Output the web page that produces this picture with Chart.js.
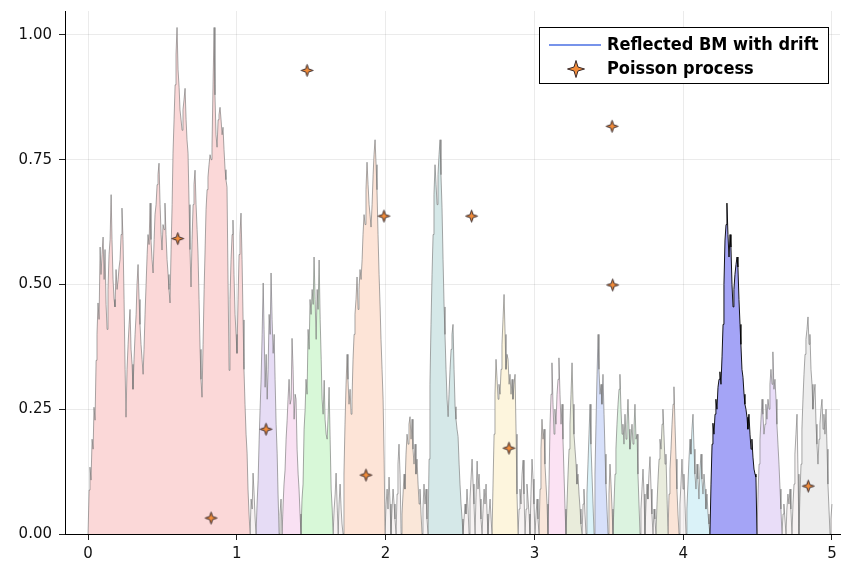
<!DOCTYPE html>
<html><head><meta charset="utf-8">
<style>html,body{margin:0;padding:0;background:#fff}#wrap{width:848px;height:561px}</style>
<script src="https://cdn.jsdelivr.net/npm/chart.js@4/dist/chart.umd.min.js"></script>
</head><body><div id="wrap"><canvas id="c" width="848" height="561"></canvas></div>
<script>
// Reflected Brownian motion path [t, W_t]; each zero ends an excursion
const bmPath = [
[0,0],[0.007,0.088],[0.013,0.134],[0.020,0.108],[0.027,0.19],[0.034,0.17],[0.040,0.254],[0.047,0.228],[0.054,0.348],[0.060,0.40],[0.067,0.463],[0.074,0.43],[0.081,0.575],[0.087,0.52],[0.094,0.56],[0.101,0.595],[0.108,0.51],[0.114,0.57],[0.121,0.46],[0.128,0.41],[0.134,0.49],[0.141,0.56],[0.148,0.59],[0.155,0.68],[0.161,0.59],[0.168,0.51],[0.175,0.47],[0.181,0.455],[0.188,0.53],[0.195,0.49],[0.202,0.51],[0.208,0.533],[0.215,0.55],[0.222,0.60],[0.228,0.653],[0.235,0.59],[0.242,0.47],[0.249,0.33],[0.255,0.234],[0.262,0.33],[0.269,0.38],[0.276,0.42],[0.282,0.45],[0.289,0.37],[0.296,0.34],[0.302,0.29],[0.309,0.35],[0.316,0.40],[0.323,0.44],[0.329,0.50],[0.336,0.54],[0.343,0.47],[0.349,0.42],[0.356,0.38],[0.363,0.35],[0.370,0.32],[0.376,0.37],[0.383,0.44],[0.390,0.50],[0.397,0.56],[0.403,0.60],[0.410,0.58],[0.417,0.663],[0.423,0.59],[0.430,0.55],[0.437,0.523],[0.444,0.59],[0.450,0.64],[0.457,0.66],[0.464,0.70],[0.470,0.72],[0.477,0.743],[0.484,0.66],[0.491,0.60],[0.497,0.569],[0.504,0.62],[0.511,0.61],[0.517,0.663],[0.524,0.60],[0.531,0.55],[0.538,0.52],[0.544,0.49],[0.551,0.463],[0.558,0.57],[0.565,0.66],[0.571,0.763],[0.578,0.83],[0.585,0.90],[0.591,0.96],[0.598,1.015],[0.605,0.93],[0.612,0.895],[0.618,0.85],[0.625,0.83],[0.632,0.809],[0.638,0.85],[0.645,0.87],[0.652,0.893],[0.659,0.83],[0.665,0.79],[0.672,0.763],[0.679,0.66],[0.685,0.57],[0.692,0.495],[0.699,0.59],[0.706,0.66],[0.712,0.70],[0.719,0.729],[0.726,0.66],[0.733,0.61],[0.739,0.563],[0.746,0.47],[0.753,0.37],[0.759,0.31],[0.766,0.274],[0.773,0.38],[0.780,0.49],[0.786,0.563],[0.793,0.65],[0.800,0.69],[0.806,0.715],[0.813,0.74],[0.820,0.76],[0.827,0.75],[0.833,0.775],[0.840,0.90],[0.847,1.015],[0.853,0.88],[0.860,0.80],[0.867,0.775],[0.874,0.83],[0.880,0.84],[0.887,0.855],[0.894,0.83],[0.901,0.80],[0.907,0.815],[0.914,0.77],[0.921,0.73],[0.927,0.71],[0.934,0.695],[0.941,0.50],[0.948,0.328],[0.954,0.47],[0.961,0.55],[0.968,0.60],[0.974,0.629],[0.981,0.52],[0.988,0.44],[0.995,0.40],[1.001,0.362],[1.008,0.47],[1.015,0.56],[1.021,0.60],[1.028,0.643],[1.035,0.55],[1.042,0.429],[1.048,0.33],[1.055,0.26],[1.062,0.20],[1.069,0.162],[1.075,0.09],[1.082,0.04],[1.089,0],
[1.096,0.07],[1.103,0.05],[1.109,0.122],[1.116,0.08],[1.123,0.03],[1.129,0],
[1.136,0.06],[1.143,0.108],[1.150,0.19],[1.156,0.248],[1.163,0.31],[1.170,0.40],[1.177,0.503],[1.183,0.41],[1.190,0.294],[1.197,0.36],[1.204,0.27],[1.210,0.33],[1.217,0.44],[1.224,0.40],[1.230,0.523],[1.237,0.43],[1.244,0.362],[1.251,0.40],[1.257,0.31],[1.264,0.22],[1.271,0.162],[1.277,0.08],[1.284,0],
[1.290,0.04],[1.297,0.07],[1.304,0],
[1.311,0.06],[1.317,0.10],[1.324,0.128],[1.331,0.19],[1.338,0.228],[1.344,0.27],[1.351,0.31],[1.358,0.26],[1.365,0.27],[1.371,0.392],[1.378,0.33],[1.385,0.23],[1.392,0.28],[1.398,0.27],[1.405,0.17],[1.412,0.12],[1.418,0.09],[1.425,0.04],[1.431,0],
[1.438,0.07],[1.445,0.10],[1.452,0.21],[1.459,0.25],[1.465,0.31],[1.472,0.28],[1.479,0.41],[1.486,0.37],[1.492,0.47],[1.499,0.44],[1.506,0.49],[1.513,0.46],[1.519,0.555],[1.526,0.47],[1.533,0.39],[1.540,0.49],[1.546,0.45],[1.553,0.549],[1.560,0.43],[1.567,0.35],[1.573,0.27],[1.580,0.24],[1.587,0.308],[1.593,0.23],[1.600,0.20],[1.607,0.19],[1.614,0.24],[1.620,0.294],[1.627,0.19],[1.634,0.09],[1.641,0.05],[1.647,0],
[1.654,0.05],[1.661,0.08],[1.667,0.122],[1.674,0.06],[1.681,0],
[1.687,0.06],[1.694,0.10],[1.701,0.05],[1.707,0.02],[1.714,0],
[1.720,0.12],[1.727,0.22],[1.734,0.30],[1.741,0.36],[1.747,0.31],[1.754,0.26],[1.761,0.29],[1.768,0.24],[1.774,0.27],[1.781,0.35],[1.788,0.40],[1.794,0.44],[1.801,0.47],[1.808,0.515],[1.815,0.45],[1.821,0.49],[1.828,0.53],[1.835,0.51],[1.842,0.55],[1.848,0.60],[1.855,0.64],[1.862,0.62],[1.868,0.69],[1.875,0.745],[1.882,0.70],[1.889,0.66],[1.895,0.64],[1.902,0.615],[1.909,0.66],[1.916,0.72],[1.922,0.76],[1.929,0.79],[1.936,0.74],[1.942,0.69],[1.949,0.60],[1.956,0.52],[1.963,0.455],[1.969,0.39],[1.976,0.33],[1.983,0.27],[1.990,0.15],[1.996,0],
[2.003,0.06],[2.010,0.09],[2.016,0.05],[2.023,0.114],[2.030,0.06],[2.036,0],
[2.043,0.05],[2.050,0.09],[2.057,0.06],[2.063,0.03],[2.070,0],
[2.077,0.08],[2.083,0.14],[2.090,0.18],[2.097,0.12],[2.104,0],
[2.110,0.04],[2.117,0.08],[2.124,0.12],[2.130,0.09],[2.137,0.16],[2.144,0.20],[2.151,0.18],[2.157,0.22],[2.164,0.235],[2.171,0.19],[2.178,0.23],[2.184,0.17],[2.191,0.14],[2.198,0.18],[2.204,0.12],[2.211,0.15],[2.218,0.10],[2.225,0.06],[2.231,0.09],[2.238,0.04],[2.245,0],
[2.251,0.05],[2.258,0.10],[2.265,0.06],[2.272,0.09],[2.278,0.03],[2.285,0],
[2.292,0.15],[2.298,0.30],[2.305,0.42],[2.312,0.52],[2.319,0.60],[2.325,0.68],[2.332,0.74],[2.339,0.70],[2.346,0.66],[2.352,0.72],[2.359,0.76],[2.366,0.79],[2.372,0.72],[2.379,0.655],[2.386,0.55],[2.393,0.455],[2.399,0.40],[2.406,0.33],[2.413,0.27],[2.420,0.235],[2.426,0.28],[2.433,0.33],[2.440,0.37],[2.446,0.40],[2.453,0.42],[2.460,0.33],[2.467,0.255],[2.473,0.23],[2.480,0.21],[2.487,0.195],[2.494,0.14],[2.500,0.10],[2.507,0.06],[2.514,0.03],[2.520,0],
[2.527,0.03],[2.534,0.06],[2.540,0.04],[2.547,0.09],[2.554,0.05],[2.561,0],
[2.567,0.07],[2.574,0.11],[2.581,0.15],[2.588,0.10],[2.594,0.06],[2.601,0],
[2.608,0.08],[2.615,0.146],[2.621,0.09],[2.628,0.12],[2.635,0.07],[2.641,0.03],[2.648,0],
[2.655,0.05],[2.662,0.09],[2.668,0.06],[2.675,0.10],[2.682,0.04],[2.688,0],
[2.695,0.04],[2.702,0.07],[2.709,0.03],[2.715,0],
[2.722,0.10],[2.729,0.20],[2.735,0.28],[2.742,0.35],[2.749,0.31],[2.756,0.27],[2.762,0.30],[2.769,0.28],[2.776,0.33],[2.782,0.38],[2.789,0.43],[2.796,0.48],[2.803,0.40],[2.809,0.33],[2.816,0.36],[2.823,0.35],[2.830,0.30],[2.836,0.32],[2.843,0.28],[2.850,0.31],[2.856,0.27],[2.863,0.30],[2.870,0.32],[2.877,0.20],[2.883,0.08],[2.890,0],
[2.897,0.05],[2.903,0.09],[2.910,0.06],[2.917,0.12],[2.924,0.148],[2.930,0.08],[2.937,0],
[2.944,0.05],[2.950,0.10],[2.957,0.07],[2.964,0.04],[2.970,0],
[2.977,0.08],[2.984,0.15],[2.991,0.11],[2.997,0.06],[3.004,0],
[3.011,0.04],[3.018,0.07],[3.024,0.03],[3.031,0],
[3.038,0.09],[3.044,0.17],[3.051,0.23],[3.058,0.19],[3.065,0.21],[3.071,0.14],[3.078,0.10],[3.085,0.06],[3.091,0],
[3.098,0.10],[3.105,0.22],[3.112,0.28],[3.118,0.343],[3.125,0.26],[3.132,0.20],[3.138,0.25],[3.145,0.22],[3.152,0.28],[3.159,0.31],[3.165,0.353],[3.172,0.28],[3.179,0.22],[3.186,0.26],[3.192,0.19],[3.199,0.12],[3.206,0.05],[3.212,0],
[3.219,0.06],[3.226,0.12],[3.233,0.17],[3.239,0.22],[3.246,0.28],[3.253,0.343],[3.260,0.26],[3.266,0.20],[3.273,0.17],[3.280,0.14],[3.286,0.10],[3.293,0.12],[3.300,0.08],[3.307,0.05],[3.313,0.02],[3.320,0],
[3.327,0.06],[3.333,0.09],[3.340,0.04],[3.347,0],
[3.353,0.08],[3.360,0.14],[3.367,0.20],[3.374,0.26],[3.380,0.18],[3.387,0.12],[3.394,0.06],[3.401,0],
[3.407,0.12],[3.414,0.22],[3.421,0.32],[3.428,0.40],[3.434,0.33],[3.441,0.28],[3.448,0.30],[3.454,0.26],[3.461,0.32],[3.468,0.24],[3.475,0.16],[3.481,0.10],[3.488,0.05],[3.495,0],
[3.501,0.08],[3.508,0.14],[3.515,0.10],[3.522,0.05],[3.528,0],
[3.535,0.06],[3.542,0.12],[3.548,0.17],[3.555,0.22],[3.562,0.26],[3.569,0.29],[3.575,0.32],[3.582,0.25],[3.589,0.20],[3.595,0.22],[3.602,0.18],[3.609,0.24],[3.616,0.19],[3.622,0.22],[3.629,0.27],[3.636,0.21],[3.642,0.17],[3.649,0.19],[3.656,0.22],[3.663,0.18],[3.669,0.21],[3.676,0.26],[3.683,0.19],[3.690,0.20],[3.696,0.12],[3.703,0.06],[3.710,0],
[3.716,0.05],[3.723,0.09],[3.730,0.13],[3.737,0.08],[3.743,0],
[3.750,0.06],[3.757,0.10],[3.763,0.07],[3.770,0.12],[3.777,0.155],[3.784,0.09],[3.790,0.04],[3.797,0],
[3.804,0.05],[3.810,0.03],[3.817,0],
[3.824,0.06],[3.831,0.11],[3.838,0.15],[3.844,0.19],[3.851,0.17],[3.858,0.22],[3.864,0.25],[3.871,0.20],[3.878,0.14],[3.884,0.16],[3.891,0.08],[3.898,0],
[3.905,0.08],[3.911,0.13],[3.918,0.17],[3.925,0.22],[3.932,0.26],[3.938,0.295],[3.945,0.22],[3.952,0.15],[3.958,0.09],[3.965,0.04],[3.972,0],
[3.978,0.06],[3.985,0.10],[3.992,0.15],[3.999,0.09],[4.005,0.12],[4.012,0.06],[4.019,0],
[4.025,0.05],[4.032,0.10],[4.039,0.15],[4.046,0.19],[4.052,0.16],[4.059,0.21],[4.066,0.24],[4.073,0.17],[4.079,0.12],[4.086,0.09],[4.093,0.14],[4.099,0.11],[4.106,0.07],[4.113,0.13],[4.120,0.16],[4.126,0.11],[4.133,0.08],[4.140,0.12],[4.147,0.09],[4.153,0.05],[4.160,0.08],[4.167,0.04],[4.173,0.02],[4.180,0],
[4.187,0.10],[4.194,0.18],[4.200,0.222],[4.207,0.20],[4.214,0.24],[4.220,0.27],[4.227,0.25],[4.234,0.294],[4.241,0.31],[4.247,0.325],[4.254,0.30],[4.261,0.355],[4.268,0.42],[4.274,0.50],[4.281,0.589],[4.288,0.62],[4.294,0.663],[4.301,0.60],[4.308,0.555],[4.315,0.60],[4.321,0.575],[4.328,0.50],[4.335,0.455],[4.341,0.49],[4.348,0.52],[4.355,0.54],[4.362,0.555],[4.368,0.535],[4.375,0.47],[4.382,0.42],[4.388,0.38],[4.395,0.33],[4.402,0.314],[4.409,0.28],[4.415,0.26],[4.422,0.25],[4.429,0.234],[4.435,0.21],[4.442,0.24],[4.449,0.20],[4.456,0.17],[4.462,0.19],[4.469,0.154],[4.476,0.13],[4.483,0.12],[4.489,0.114],[4.496,0],
[4.503,0.08],[4.510,0.14],[4.516,0.19],[4.523,0.23],[4.530,0.27],[4.536,0.24],[4.543,0.20],[4.550,0.22],[4.556,0.26],[4.563,0.23],[4.570,0.27],[4.577,0.25],[4.583,0.30],[4.590,0.33],[4.597,0.30],[4.603,0.365],[4.610,0.29],[4.617,0.31],[4.624,0.27],[4.630,0.22],[4.637,0.18],[4.644,0.14],[4.651,0.09],[4.657,0.05],[4.664,0],
[4.671,0.04],[4.677,0.06],[4.684,0.03],[4.691,0],
[4.697,0.05],[4.704,0.08],[4.711,0.06],[4.718,0.09],[4.724,0.05],[4.731,0],
[4.738,0.06],[4.745,0.10],[4.751,0.16],[4.758,0.20],[4.765,0.24],[4.772,0.12],[4.778,0],
[4.785,0.08],[4.792,0.14],[4.798,0.21],[4.805,0.27],[4.812,0.32],[4.819,0.36],[4.825,0.39],[4.832,0.41],[4.839,0.435],[4.846,0.38],[4.852,0.40],[4.859,0.33],[4.866,0.30],[4.872,0.25],[4.879,0.28],[4.886,0.30],[4.893,0.22],[4.899,0.18],[4.906,0.14],[4.913,0.19],[4.919,0.22],[4.926,0.25],[4.933,0.27],[4.940,0.21],[4.946,0.24],[4.953,0.20],[4.960,0.25],[4.967,0.17],[4.973,0.10],[4.980,0.05],[4.987,0],
[4.993,0.03],[5.000,0.06]
];

// Poisson process points (time, height)
const poissonT = [0.603, 0.827, 1.196, 1.472, 1.868, 1.989, 2.578, 2.829, 3.522, 3.526, 4.841];
const poissonH = [0.592, 0.032, 0.210, 0.929, 0.118, 0.637, 0.637, 0.172, 0.817, 0.499, 0.096];

const xTicks = [0, 1, 2, 3, 4, 5];
const yTicks = [0, 0.25, 0.5, 0.75, 1.0];
const legendLabels = ['Reflected BM with drift', 'Poisson process'];

// fill colour by excursion start time
const excursionFills = [
  [0, '#fbd8d8'], [1.129, '#e6dcf5'], [1.304, '#f9e1f3'], [1.431, '#d8f8d8'],
  [1.714, '#fde4d7'], [2.104, '#fae7d9'], [2.285, '#d5e8e8'], [2.715, '#fdf5dd'],
  [3.031, '#f9e6da'], [3.091, '#fbe2f3'], [3.212, '#e9ecdb'], [3.347, '#dbf3f9'],
  [3.401, '#d7e0fa'], [3.495, '#f9e7dc'], [3.528, '#dcf3e0'], [3.817, '#e9ecdd'],
  [3.898, '#fae4d7'], [4.019, '#daf2f8'], [4.180, '#a4a4f6'], [4.496, '#e9ddf8'],
  [4.778, '#ededed']
];
const highlightStart = 4.180;

// split path into excursions
const excursions = [];
let cur = [];
bmPath.forEach(([t, y]) => {
  cur.push({x: t, y: y});
  if (y === 0 && cur.length > 1) { excursions.push(cur); cur = [{x: t, y: y}]; }
});
if (cur.length > 1) excursions.push(cur);

function fillFor(t0) {
  const e = excursionFills.find(f => Math.abs(f[0] - t0) < 0.002);
  return e ? e[1] : 'rgba(238,228,228,0.45)';
}

function drawStar(g, cx, cy, R, r) {
  g.beginPath();
  for (let i = 0; i < 8; i++) {
    const ang = -Math.PI / 2 + i * Math.PI / 4;
    const rad = i % 2 === 0 ? R : r;
    const px = cx + rad * Math.cos(ang), py = cy + rad * Math.sin(ang);
    if (i === 0) g.moveTo(px, py); else g.lineTo(px, py);
  }
  g.closePath();
  g.fillStyle = '#f28c3a';
  g.fill();
  g.lineWidth = 1;
  g.strokeStyle = '#3a2a2a';
  g.stroke();
}
function makeStar(R, r) {
  const s = Math.ceil(R * 2 + 3);
  const cv = document.createElement('canvas');
  cv.width = s; cv.height = s;
  drawStar(cv.getContext('2d'), s / 2, s / 2, R, r);
  return cv;
}
const starImg = makeStar(6, 2.1);

const datasets = [{
  label: legendLabels[1],
  data: poissonT.map((t, i) => ({x: t, y: poissonH[i]})),
  showLine: false,
  pointStyle: starImg,
  pointRadius: 7,
  order: 0
}];
excursions.forEach(ex => {
  const t0 = ex[0].x;
  const hl = Math.abs(t0 - highlightStart) < 0.002;
  datasets.push({
    label: legendLabels[0],
    data: ex,
    fill: 'origin',
    backgroundColor: fillFor(t0),
    borderColor: hl ? 'rgba(0,0,0,0.9)' : 'rgba(110,110,110,0.6)',
    borderWidth: 1,
    pointRadius: 0,
    tension: 0,
    order: hl ? 0.5 : 1
  });
});

const legendPlugin = {
  id: 'boxLegend',
  afterDraw(chart) {
    const ctx = chart.ctx, a = chart.chartArea;
    const w = 289, h = 56;
    const x = a.right - 12 - w, y = a.top + 16;
    ctx.save();
    ctx.fillStyle = '#fff';
    ctx.fillRect(x, y, w, h);
    ctx.strokeStyle = '#000';
    ctx.lineWidth = 1;
    ctx.strokeRect(x + 0.5, y + 0.5, w, h);
    ctx.strokeStyle = '#4a6fe3';
    ctx.lineWidth = 1.5;
    ctx.beginPath(); ctx.moveTo(x + 10, y + 18); ctx.lineTo(x + 62, y + 18); ctx.stroke();
    drawStar(ctx, x + 37, y + 42, 8.5, 2.8);
    ctx.fillStyle = '#000';
    ctx.font = 'bold 18px "DejaVu Sans Condensed", "DejaVu Sans", sans-serif';
    ctx.textBaseline = 'alphabetic';
    ctx.textAlign = 'left';
    ctx.fillText(legendLabels[0], x + 68, y + 22.5);
    ctx.fillText(legendLabels[1], x + 68, y + 47);
    ctx.restore();
  }
};

const tickFont = {family: 'DejaVu Sans', size: 15};
function zeroPad(s) { s.paddingTop = 0; s.paddingBottom = 0; s.paddingLeft = 0; s.paddingRight = 0; }
new Chart(document.getElementById('c'), {
  type: 'line',
  data: {datasets: datasets},
  options: {
    responsive: false,
    animation: false,
    devicePixelRatio: 1,
    layout: {padding: {top: 11, right: 3, left: 0, bottom: 0}},
    plugins: {legend: {display: false}, tooltip: {enabled: false}},
    scales: {
      x: {
        type: 'linear', min: -0.155, max: 5.054,
        afterBuildTicks: s => { s.ticks = xTicks.map(v => ({value: v})); },
        afterFit: s => { s.height = 27; zeroPad(s); },
        ticks: {font: tickFont, color: '#111', padding: 5, maxRotation: 0, callback: v => String(v)},
        grid: {color: 'rgba(0,0,0,0.08)', tickColor: '#222', tickLength: 6},
        border: {color: '#000', width: 1}
      },
      y: {
        type: 'linear', min: 0, max: 1.048,
        afterBuildTicks: s => { s.ticks = yTicks.map(v => ({value: v})); },
        afterFit: s => { s.width = 65; zeroPad(s); },
        ticks: {font: tickFont, color: '#111', padding: 7, callback: v => v.toFixed(2)},
        grid: {color: 'rgba(0,0,0,0.08)', tickColor: '#222', tickLength: 6},
        border: {color: '#000', width: 1}
      }
    }
  },
  plugins: [legendPlugin]
});
</script>
</body></html>
